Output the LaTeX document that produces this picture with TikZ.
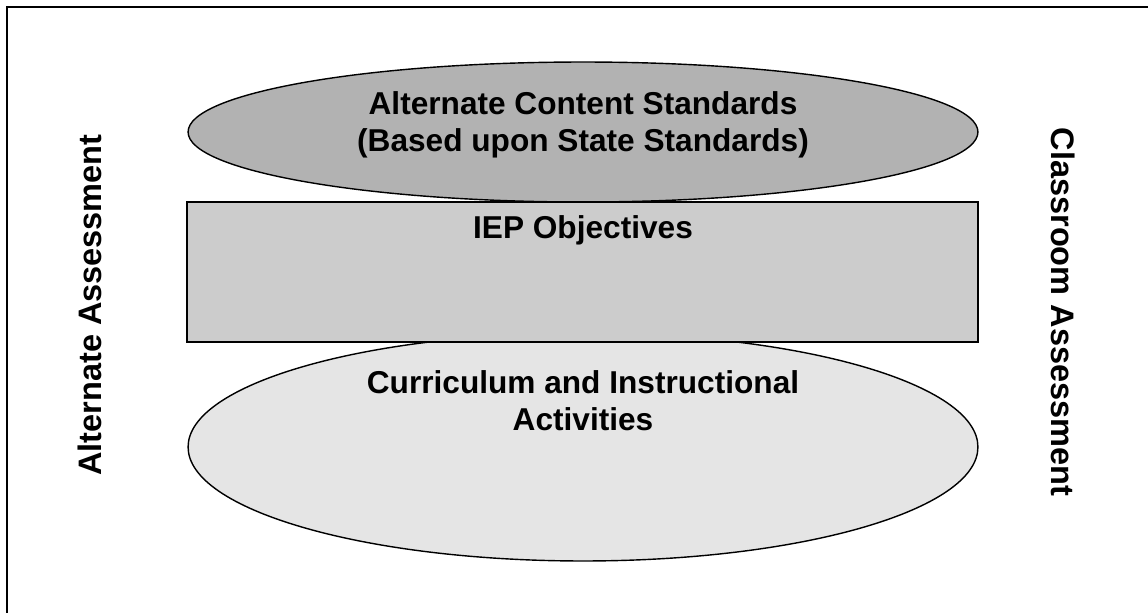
\documentclass[tikz,border=0pt]{standalone}
\usepackage{fontspec}
\setmainfont{Liberation Sans}
\usetikzlibrary{shapes.geometric}

\begin{document}
\begin{tikzpicture}[x=0.02cm,y=-0.02cm,
    lbl/.style={font=\bfseries\fontsize{18}{21}\selectfont, align=center},
    side/.style={font=\bfseries\fontsize{18.5}{22}\selectfont},
    box/.style={draw, line width=0.8pt, inner sep=0pt}]
                \useasboundingbox (0,0) rectangle (1148,612);
                % Frame
                \draw[line width=1.3pt] (1200,7) -- (7,7) -- (7,650);

                % Shapes
                \node[box, ellipse, fill=black!30, minimum width=15.8cm, minimum height=2.8cm] (acs) at (583,132) {};
                \node[box, ellipse, fill=black!10, minimum width=15.8cm, minimum height=4.56cm] (cur) at (583,447) {};
                \node[box, rectangle, fill=black!20, minimum width=15.82cm, minimum height=2.8cm] (iep) at (582.5,272) {};

                % Labels
                \node[lbl] (acsText) at (583,125) {Alternate Content Standards\\(Based upon State Standards)};
                \node[lbl] (iepText) at (583,230) {IEP Objectives};
                \node[lbl] (curText) at (583,401) {Curriculum and Instructional\\Activities};
                \node[side, rotate=90] (alt) at (90,305) {Alternate Assessment};
                \node[side, rotate=-90] (cls) at (1063,312) {Classroom Assessment};
            \end{tikzpicture}
\end{document}
